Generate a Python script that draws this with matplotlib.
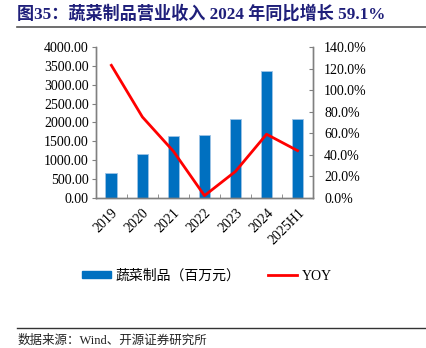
import numpy as np
import matplotlib
matplotlib.use('Agg')
import matplotlib.pyplot as plt
from matplotlib.lines import Line2D
from matplotlib.patches import Patch

plt.rcParams['font.family'] = ['Liberation Serif', 'Noto Sans CJK SC']

years = ['2019', '2020', '2021', '2022', '2023', '2024', '2025H1']
revenue = [653, 1157, 1651, 1678, 2101, 3364, 2095]      # 百万元
yoy = [123.0, 75.1, 43.3, 2.2, 24.7, 59.1, 43.9]          # %

blue = '#0070C0'
red = '#FF0000'
grey = '#808080'

fig = plt.figure(figsize=(4.26, 3.48), dpi=100)
ax = fig.add_axes([0.225, 0.431, 0.510, 0.434])
ax2 = ax.twinx()

x = np.arange(len(years))
ax.bar(x, revenue, width=0.38, color=blue, edgecolor='#9DC3E6', linewidth=0.6, zorder=2)
ax2.plot(x, yoy, color=red, linewidth=2, zorder=3)

ax.set_xlim(-0.5, len(years) - 0.5)
ax.set_ylim(0, 4000)
ax.set_yticks(np.arange(0, 4001, 500))
ax.set_yticklabels(['%.2f' % v for v in np.arange(0, 4001, 500)])
ax2.set_ylim(0, 140)
ax2.set_yticks(np.arange(0, 141, 20))
ax2.set_yticklabels(['%.1f%%' % v for v in np.arange(0, 141, 20)])

ax.set_xticks(x)
ax.set_xticklabels(years, rotation=45, ha='right', rotation_mode='anchor')
ax.set_xticks(np.arange(0.5, len(years) - 1, 1), minor=True)
ax.tick_params(axis='x', which='major', length=0, pad=6, labelsize=10)
ax.tick_params(axis='x', which='minor', direction='in', length=3, color=grey)
ax.tick_params(axis='y', direction='out', length=3, color=grey, labelsize=10, pad=2)
ax2.tick_params(axis='y', direction='in', length=3, color=grey, labelsize=10, pad=8)

for a in (ax, ax2):
    a.spines['top'].set_visible(False)
    for s in ('left', 'right', 'bottom'):
        a.spines[s].set_color(grey)
        a.spines[s].set_linewidth(1)

handles = [Patch(facecolor=blue, edgecolor=blue),
           Line2D([0], [0], color=red, linewidth=2)]
fig.legend(handles, ['蔬菜制品（百万元）', 'YOY'], loc='center',
           bbox_to_anchor=(0.486, 0.207), ncol=2, frameon=False,
           handlelength=2.1, handleheight=0.45, columnspacing=2.0,
           handletextpad=0.3,
           prop={'family': ['Liberation Serif', 'Noto Sans CJK SC'], 'size': 10})

fig.text(0.04, 0.96, '图35：蔬菜制品营业收入 2024 年同比增长 59.1%', fontsize=12.3,
         fontweight='bold', color='#1F1F7A', va='center', ha='left',
         family=['Liberation Serif', 'Noto Sans CJK SC'])
fig.add_artist(Line2D([0.04, 1.0], [0.922, 0.922], color='#555555', linewidth=1.2))
fig.add_artist(Line2D([0.04, 1.0], [0.058, 0.058], color='#333333', linewidth=1))
fig.text(0.04, 0.022, '数据来源：Wind、开源证券研究所', fontsize=9, color='#222222',
         va='center', ha='left', family=['Liberation Serif', 'Noto Sans CJK SC'])

fig.savefig('out.png', dpi=100)
